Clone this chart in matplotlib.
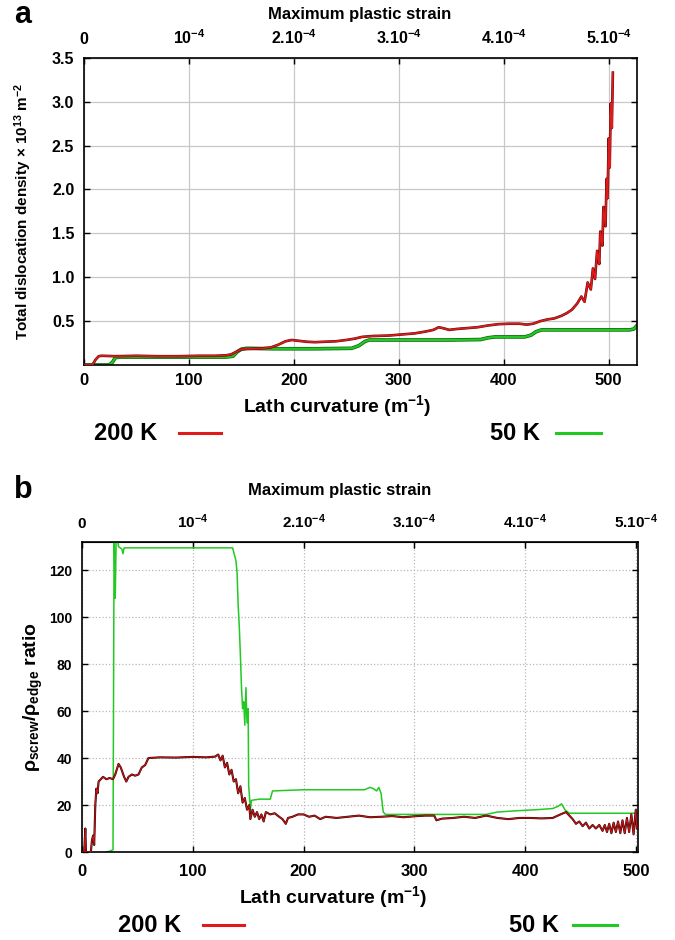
import matplotlib
matplotlib.use("Agg")
import matplotlib.pyplot as plt
from matplotlib.lines import Line2D

plt.rcParams.update({
    'font.family'      : ['Liberation Sans', 'DejaVu Sans'],
    'font.weight'      : 'bold',
    'axes.labelweight' : 'bold',
    'mathtext.fontset' : 'custom',
    'mathtext.rm'      : 'Liberation Sans',
    'mathtext.it'      : 'Liberation Sans',
    'mathtext.bf'      : 'Liberation Sans:bold',
})

W, H = 675, 940

# ── data: panel a, total dislocation density (x 1e13 m^-2) vs lath curvature ──
a200_x = [0, 8, 11, 14, 17, 30, 50, 70, 90, 110, 125, 135, 140, 145, 150, 160, 170, 178,
          185, 192, 198, 205, 212, 220, 230, 240, 250, 258, 265, 275, 290, 305, 315, 325,
          333, 338, 342, 348, 355, 365, 375, 385, 395, 405, 415, 422, 428, 435, 442, 448,
          455, 460, 465, 470, 474, 477, 480, 483, 485, 487, 489, 491, 492, 494, 495, 497,
          498, 499, 500, 501, 502, 503, 504]
a200_y = [0.0, 0.0, 0.06, 0.10, 0.105, 0.10, 0.105, 0.10, 0.10, 0.105, 0.105, 0.11, 0.12,
          0.15, 0.18, 0.185, 0.19, 0.20, 0.23, 0.27, 0.285, 0.275, 0.265, 0.26, 0.265, 0.27,
          0.285, 0.30, 0.32, 0.33, 0.335, 0.35, 0.36, 0.38, 0.40, 0.43, 0.42, 0.40, 0.41,
          0.42, 0.43, 0.45, 0.465, 0.47, 0.47, 0.46, 0.47, 0.50, 0.52, 0.53, 0.56, 0.59, 0.63,
          0.70, 0.78, 0.72, 0.94, 0.86, 1.10, 0.98, 1.30, 1.15, 1.52, 1.36, 1.80, 1.58, 2.12,
          1.90, 2.58, 2.25, 2.98, 2.70, 3.33]
a50_x = [0, 24, 27, 30, 35, 60, 100, 135, 142, 146, 150, 155, 180, 220, 255, 262, 268, 272,
         300, 350, 378, 385, 392, 420, 426, 431, 436, 460, 490, 520, 524, 527]
a50_y = [0.0, 0.0, 0.03, 0.085, 0.09, 0.09, 0.09, 0.09, 0.10, 0.15, 0.18, 0.19, 0.185, 0.185,
         0.19, 0.22, 0.27, 0.285, 0.285, 0.285, 0.29, 0.31, 0.32, 0.32, 0.34, 0.38, 0.40,
         0.40, 0.40, 0.40, 0.41, 0.45]

# ── data: panel b, screw/edge ratio vs lath curvature ──
b200_x = [0, 2, 3, 3.6, 8, 9, 10, 11, 12, 13, 14, 15, 17, 19, 22, 25, 28, 30, 33, 35, 38, 40,
          42, 45, 48, 51, 54, 57, 60, 70, 85, 100, 112, 120, 123, 125, 127, 129, 131, 133,
          135, 137, 139, 141, 143, 145, 147, 149, 151, 152, 154, 156, 158, 160, 162, 164,
          166, 170, 174, 178, 181, 184, 186, 190, 195, 200, 205, 210, 215, 220, 230, 240,
          250, 260, 270, 280, 290, 300, 310, 318, 320, 325, 335, 345, 355, 365, 375, 385,
          395, 405, 415, 425, 432, 437, 440, 443, 446, 449, 452, 455, 458, 461, 464, 467,
          470, 472, 474, 476, 478, 480, 482, 484, 486, 488, 490, 492, 494, 496, 498, 500, 501]
b200_y = [0, 0, 10, 0, 0, 5, 7, 3, 20, 27, 25, 30, 31, 32, 31, 31.5, 31, 33, 37.5, 36, 32, 30,
          32, 33, 32.5, 33, 36, 37, 40, 40.3, 40.2, 40.5, 40.3, 40.6, 41.5, 39, 41, 36, 38,
          33, 35, 30, 31, 25, 28, 21, 23, 18, 20, 14, 18, 15, 17, 14, 16, 13, 17, 16, 16.5,
          15, 14, 12, 14.5, 15, 16, 16, 15, 15.5, 14, 15, 14.5, 15, 15.5, 14.8, 15, 15.3,
          14.8, 15.2, 15.5, 15.5, 13.5, 14.2, 14.5, 15, 14.5, 15.5, 14.5, 14, 14.5, 14.5,
          14.3, 14.5, 16, 17, 15.5, 14, 12, 13, 11, 12.5, 10, 11.5, 10, 11.5, 9, 11.5, 8.5,
          12, 8, 12.5, 8.5, 13, 8, 13.5, 8, 14.5, 8.5, 16, 7.5, 18, 10]
b50_x = [22, 25, 28, 29, 30, 31, 33, 36, 37, 38, 60, 100, 136, 139, 140, 141, 142, 143, 144,
         145, 146, 147, 148, 149, 150, 150.5, 151, 152, 153, 160, 170, 172, 200, 230, 255,
         260, 263, 266, 268, 270, 272, 274, 300, 340, 365, 375, 390, 410, 425, 430, 433, 436,
         440, 470, 502]
b50_y = [0, 0.3, 1, 137, 108, 137, 130, 129, 127, 129.5, 129.5, 129.5, 129.5, 124, 119, 105,
         96, 84, 70, 61, 64, 54, 70, 55, 61, 28, 25, 18, 22, 22.5, 22.5, 26, 26.5, 26.5, 26.5,
         27.5, 27, 26, 27.5, 25, 17, 16, 16, 16, 16, 17, 17.5, 18, 18.5, 19.5, 20.5, 18, 16.5,
         16.5, 16.5]

bottom_ticks = [0, 100, 200, 300, 400, 500]
strain_labels = ['0', r'10$^{\mathbf{-4}}$', r'2.10$^{\mathbf{-4}}$', r'3.10$^{\mathbf{-4}}$',
                 r'4.10$^{\mathbf{-4}}$', r'5.10$^{\mathbf{-4}}$']

RED   = '#e01a1a'
DARK  = '#5a0a0a'
GREEN = '#22c922'


def rect(x0, y0, x1, y1):
    return [x0 / W, 1 - y1 / H, (x1 - x0) / W, (y1 - y0) / H]


def legend_row(y, x_200, line_200, x_50, line_50):
    yf = 1 - y / H
    fig.text(x_200 / W, yf, '200 K', fontsize=17, ha='left', va='center')
    fig.text(x_50 / W, yf, '50 K', fontsize=17, ha='left', va='center')
    fig.add_artist(Line2D([line_200[0] / W, line_200[1] / W], [yf, yf], color=RED, lw=2.2))
    fig.add_artist(Line2D([line_50[0] / W, line_50[1] / W], [yf, yf], color=GREEN, lw=2.2))


fig = plt.figure(figsize=(6.75, 9.4), dpi=100)

# ── panel a ──────────────────────────────────────────────────────────────────
ax = fig.add_axes(rect(84, 57.7, 637, 365))
ax.plot(a200_x, a200_y, color=DARK, lw=1.9, zorder=3)
ax.plot(a200_x, a200_y, color=RED, lw=1.2, zorder=4)
ax.plot(a50_x, a50_y, color='#0b5d0b', lw=2.6, zorder=2)
ax.plot(a50_x, a50_y, color=GREEN, lw=1.6, zorder=2)
ax.set_xlim(0, 527)
ax.set_ylim(0, 3.5)
ax.set_yticks([0.5, 1.0, 1.5, 2.0, 2.5, 3.0, 3.5])
ax.set_yticklabels(['0.5', '1.0', '1.5', '2.0', '2.5', '3.0', '3.5'])
ax.set_xticks(bottom_ticks)
ax.grid(True, color='#c8c8c8', lw=0.9, ls='-')
ax.tick_params(direction='in', length=4, width=1, top=True, right=True, labeltop=False)
ax.tick_params(axis='y', labelsize=11.5, pad=7)
ax.tick_params(axis='x', labelsize=12, pad=6)
for s in ax.spines.values():
    s.set_linewidth(1.2)
ax.set_xlabel('Lath curvature (m$^{\\mathbf{-1}}$)', fontsize=14)
ax.xaxis.set_label_coords(0.457, -0.09)

top = ax.secondary_xaxis('top')
top.set_xticks(bottom_ticks, strain_labels)
top.tick_params(direction='in', length=4, labelsize=11.5, pad=8)

fig.text(23 / W, 1 - 211 / H, 'Total dislocation density × 10$^{\\mathbf{13}}$ m$^{\\mathbf{-2}}$',
         fontsize=11, rotation=90, ha='center', va='center')
fig.text(360 / W, 1 - 14 / H, 'Maximum plastic strain', fontsize=12, ha='center', va='center')
fig.text(14 / W, 1 - 15 / H, 'a', fontsize=22, ha='left', va='center')
legend_row(433, 94, (179, 221), 490, (556, 601))

# ── panel b ──────────────────────────────────────────────────────────────────
bx = fig.add_axes(rect(82, 542, 638, 852))
bx.plot(b200_x, b200_y, color='#2a0505', lw=1.5, zorder=3)
bx.plot(b200_x, b200_y, color='#c81414', lw=0.8, zorder=4)
bx.plot(b50_x, b50_y, color=GREEN, lw=1.1, zorder=2)
bx.set_xlim(0, 502)
bx.set_ylim(0, 132)
bx.set_yticks([0, 20, 40, 60, 80, 100, 120])
bx.set_xticks(bottom_ticks)
bx.grid(True, color='#b8b8b8', lw=0.9, ls=':')
bx.tick_params(direction='in', length=4, width=1, top=True, right=True, labeltop=False)
bx.tick_params(axis='y', labelsize=10, pad=7)
bx.tick_params(axis='x', labelsize=12, pad=9)
for s in bx.spines.values():
    s.set_linewidth(1.2)
bx.set_xlabel('Lath curvature (m$^{\\mathbf{-1}}$)', fontsize=14)
bx.xaxis.set_label_coords(0.451, -0.105)

topb = bx.secondary_xaxis('top')
topb.set_xticks(bottom_ticks, strain_labels)
topb.tick_params(direction='in', length=4, labelsize=11, pad=8)

fig.text(33 / W, 1 - 697 / H, r'$\rho_{\mathrm{screw}}/\rho_{\mathrm{edge}}$ ratio', fontsize=14,
         rotation=90, ha='center', va='center')
fig.text(340 / W, 1 - 490 / H, 'Maximum plastic strain', fontsize=12, ha='center', va='center')
fig.text(14 / W, 1 - 490 / H, 'b', fontsize=22, ha='left', va='center')
legend_row(925, 118, (203, 244), 509, (573, 617))

fig.savefig('out.png', dpi=100)
